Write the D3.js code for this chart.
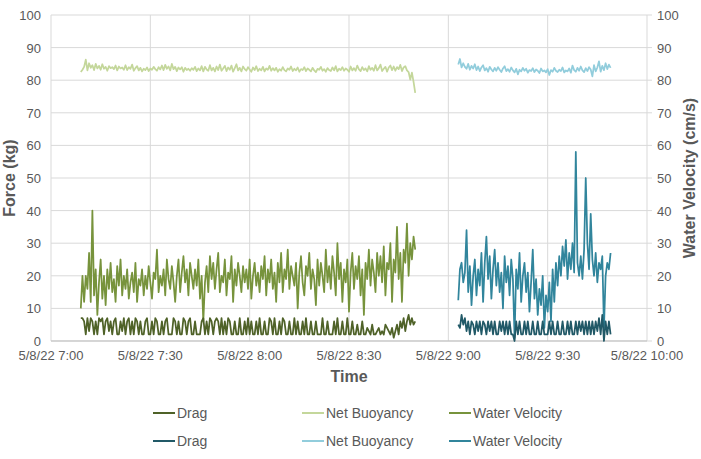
<!DOCTYPE html>
<html>
<head>
<meta charset="utf-8">
<script src="https://cdn.jsdelivr.net/npm/d3@7"></script>
<style>
  body { margin: 0; background: #fff; }
  text { font-family: "Liberation Sans", Arial, sans-serif; fill: #595959; }
</style>
</head>
<body>
<svg id="chart" width="701" height="459"></svg>
<script>
// sampling: one reading every 30 s, two deployments
var run1Start = new Date(2022, 4, 8, 7, 9, 0),
    run2Start = new Date(2022, 4, 8, 9, 3, 0),
    stepSec = 30;

var drag1 = [
  7, 7, 6, 2, 7, 3, 7, 6, 2, 6,  2, 7, 6, 7, 2, 6, 7, 3, 6, 2,
  6, 7, 2, 2, 6, 3, 7, 2, 6, 7,  2, 6, 2, 7, 6, 2, 6, 2, 2, 6,
  7, 2, 2, 6, 2, 7, 6, 2, 2, 6,  2, 6, 7, 2, 2, 2, 7, 6, 2, 6,
  2, 2, 7, 6, 2, 6, 7, 2, 2, 6,  2, 2, 2, 6, 7, 2, 6, 2, 7, 6,
  2, 6, 7, 6, 2, 7, 2, 6, 2, 7,  6, 2, 2, 6, 2, 2, 7, 2, 2, 6,
  2, 7, 2, 6, 2, 2, 6, 2, 7, 2,  2, 6, 2, 2, 7, 6, 2, 7, 2, 2,
  6, 2, 7, 6, 2, 2, 6, 2, 2, 7,  2, 6, 2, 2, 6, 2, 7, 2, 2, 6,
  2, 2, 6, 2, 2, 2, 7, 2, 2, 6,  2, 2, 2, 6, 2, 7, 2, 2, 6, 2,
  2, 7, 2, 2, 6, 2, 2, 5, 2, 2,  6, 2, 2, 4, 3, 2, 5, 2, 2, 3,
  4, 2, 3, 2, 5, 4, 3, 2, 4, 1,  3, 5, 2, 6, 4, 7, 3, 6, 8, 5,
  7, 5, 6
];
var buoy1 = [
  82.5, 83.2, 84.1, 86.3, 83.0, 85.2, 83.8, 84.6, 83.1, 85.0,
  83.6, 84.4, 83.2, 84.9, 83.5, 84.1, 82.9, 84.3, 83.7, 84.0,
  83.4, 84.5, 83.0, 84.2, 83.6, 83.9, 83.2, 84.6, 83.1, 84.0,
  83.5, 84.8, 82.9, 83.7, 84.3, 83.0, 83.8, 82.7, 83.5, 83.1,
  83.9, 82.8, 83.6, 83.2, 84.1, 83.4, 82.9, 84.0, 83.3, 84.5,
  83.1, 84.7, 83.5, 84.2, 83.0, 85.0, 83.4, 84.1, 82.8, 83.9,
  83.3, 84.0, 82.6, 83.8, 83.1, 83.5, 82.9, 83.7, 83.2, 84.1,
  82.8, 83.6, 83.0, 84.3, 82.7, 84.1, 83.3, 82.9, 84.6, 83.0,
  83.8, 82.7, 84.2, 83.1, 84.8, 82.9, 83.6, 84.4, 82.8, 83.9,
  83.2, 84.5, 82.6, 83.7, 84.9, 83.0, 83.8, 82.7, 84.2, 83.4,
  82.9, 84.0, 83.3, 82.6, 83.9, 83.1, 84.3, 82.8, 83.5, 83.0,
  84.1, 82.7, 83.6, 83.2, 84.4, 82.9, 83.7, 83.0, 83.8, 82.6,
  83.4, 82.9, 84.0, 83.1, 82.7, 83.6, 83.2, 84.2, 82.8, 83.5,
  83.0, 83.9, 82.6, 83.4, 83.1, 84.0, 82.8, 83.6, 83.2, 82.7,
  83.8, 83.0, 82.5, 83.5, 83.2, 84.1, 82.9, 83.4, 82.6, 83.7,
  83.1, 82.8, 83.9, 83.0, 84.3, 82.7, 83.5, 83.1, 84.0, 82.9,
  83.6, 83.2, 82.6, 84.2, 83.0, 83.7, 82.9, 84.5, 83.3, 82.8,
  84.0, 83.1, 83.6, 82.7, 84.3, 83.2, 83.8, 82.9, 84.6, 83.0,
  83.7, 84.8, 82.8, 83.5, 84.1, 82.6, 83.9, 84.5, 83.1, 84.2,
  82.9, 84.0, 83.4, 84.7, 82.8, 83.9, 84.3, 83.0, 82.5, 80.2,
  82.3, 79.5, 76.1
];
var vel1 = [
  10, 20, 12, 20, 16, 27, 12, 40, 14, 22,   8, 18, 25, 13, 20, 11, 22, 16, 24, 15,
  19, 12, 23, 17, 25, 14, 20, 16, 22, 13,  18, 21, 15, 24, 12, 19, 17, 22, 14, 20,
  16, 23, 18, 13, 21, 19, 28, 15, 20, 17,  22, 14, 25, 19, 16, 23, 18, 12, 20, 25,
  15, 21, 26, 18, 22, 14, 24, 20, 16, 22,  17, 25, 13, 20,  6, 18, 23, 15, 26, 19,
  24, 16, 22, 27, 15, 20, 18, 25, 14, 21,  19, 26, 12, 22, 17, 24, 20, 15, 23, 18,
  22, 16, 25, 13, 20, 24, 17, 21, 15, 23,  19, 26, 14, 22, 18, 25, 16, 21, 12, 24,
  18, 27, 15, 22, 19, 28, 16, 23, 20, 17,  24, 10, 21, 26, 18, 14, 23, 20, 27, 16,
  22, 19, 11, 25, 17, 24, 20, 15, 28, 18,  23, 16, 26, 21, 14, 30, 19, 24, 12, 22,
  18, 25,  9, 21, 27, 16, 23, 19, 26, 14,  22,  8, 24, 19, 28, 17, 25, 21, 15, 27,
  20, 26, 18, 29, 14, 24, 22, 30, 12, 25,  21, 35, 19, 27, 12, 28, 24, 36, 20, 30,
  25, 32, 28
];

var drag2 = [
  5, 4, 8, 5, 7, 3, 6, 2, 6, 5,  2, 6, 3, 6, 2, 6, 5, 2, 6, 3,
  6, 2, 6, 2, 2, 6, 3, 6, 2, 6,  2, 6, 2, 2, 0, 6, 2, 6, 2, 2,
  6, 2, 6, 2, 2, 6, 2, 2, 6, 2,  2, 6, 2, 2, 2, 6, 2, 6, 2, 2,
  6, 2, 2, 6, 2, 2, 6, 2, 6, 2,  2, 6, 2, 6, 3, 6, 2, 6, 2, 6,
  2, 6, 2, 6, 3, 7, 2, 8, 0, 6,  2, 6, 2
];
var buoy2 = [
  84.8, 86.5, 83.9, 85.2, 84.1, 83.5, 85.0, 83.2, 84.4, 83.6,
  84.9, 83.1, 84.2, 82.8, 83.9, 84.6, 83.0, 83.7, 82.6, 84.1,
  83.3, 82.7, 83.8, 82.9, 84.0, 83.2, 82.5, 83.6, 84.3, 82.8,
  83.4, 82.6, 83.9, 83.0, 82.4, 83.5, 81.8, 83.2, 82.7, 83.8,
  82.9, 83.5, 82.3, 83.1, 82.8, 83.7, 82.5, 83.3, 82.9, 82.2,
  83.6, 82.7, 83.0, 82.4, 83.4, 81.6, 83.1, 82.6, 83.8, 82.9,
  82.5, 83.2, 82.8, 83.9, 82.4, 83.0, 82.7, 83.6, 82.3, 84.5,
  83.1, 82.6, 83.8, 82.9, 84.2, 83.0, 82.5, 83.7, 82.8, 84.0,
  83.3, 81.2, 84.6, 82.7, 83.9, 85.8, 82.6, 84.4, 83.1, 85.2,
  83.4, 84.8, 83.8
];
var vel2 = [
  12.5, 22, 24, 18, 21, 34, 15, 23, 11, 20,  25, 14, 22, 17, 27, 12, 24, 32, 19, 26,
  13, 22, 28, 17, 24, 15, 21, 10, 26, 18,    23, 14, 25, 19,  1, 22, 16, 27, 12, 20,
  24, 15, 21,  9, 18, 28, 13, 19,  8, 16,    11, 20,  4, 14,  9, 18,  6, 22, 12, 24,
  17, 26, 20, 29, 23, 31, 19, 27, 22, 30,    21, 58, 24, 20, 26, 19, 28, 50, 30, 22,
  39, 25, 20, 27, 18, 24, 22, 26,  4, 20,    24, 22, 27
];

var yTicks = [0, 10, 20, 30, 40, 50, 60, 70, 80, 90, 100];
var legendLabels = ["Drag", "Net Buoyancy", "Water Velocity"];

var svg = d3.select("#chart"),
    margin = { top: 15, right: 54, bottom: 118, left: 51 },
    W = 701, H = 459,
    x0 = margin.left, x1 = W - margin.right,
    y0 = H - margin.bottom, y1 = margin.top;

var x = d3.scaleTime()
    .domain([new Date(2022, 4, 8, 7, 0), new Date(2022, 4, 8, 10, 0)])
    .range([x0, x1]);
var yForce = d3.scaleLinear().domain([0, 100]).range([y0, y1]);
var yVel = d3.scaleLinear().domain([0, 100]).range([y0, y1]);

var xTicks = x.ticks(d3.timeMinute.every(30));
var fmt = d3.timeFormat("%-m/%-d/%y %-H:%M");

// grid
svg.append("g").selectAll("line.h").data(yTicks).enter().append("line")
    .attr("x1", x0).attr("x2", x1 + 5)
    .attr("y1", d => yForce(d)).attr("y2", d => yForce(d))
    .attr("stroke", "#d9d9d9").attr("stroke-width", 1);
svg.append("g").selectAll("line.v").data(xTicks).enter().append("line")
    .attr("x1", d => x(d)).attr("x2", d => x(d))
    .attr("y1", y1).attr("y2", y0)
    .attr("stroke", "#d9d9d9").attr("stroke-width", 1);
svg.append("line").attr("x1", x0).attr("x2", x1).attr("y1", y0).attr("y2", y0)
    .attr("stroke", "#bfbfbf");

// tick labels
svg.append("g").selectAll("text").data(yTicks).enter().append("text")
    .attr("x", x0 - 10).attr("y", d => yForce(d) + 5)
    .attr("text-anchor", "end").style("font-size", "13px").text(d => d);
svg.append("g").selectAll("text").data(yTicks).enter().append("text")
    .attr("x", x1 + 10).attr("y", d => yVel(d) + 5)
    .attr("text-anchor", "start").style("font-size", "13px").text(d => d);
svg.append("g").selectAll("text").data(xTicks).enter().append("text")
    .attr("x", d => x(d)).attr("y", y0 + 19)
    .attr("text-anchor", "middle").style("font-size", "13px").text(d => fmt(d));

// axis titles
svg.append("text").attr("transform", "translate(15," + ((y0 + y1) / 2) + ") rotate(-90)")
    .attr("text-anchor", "middle").style("font-size", "16px").style("font-weight", "bold")
    .text("Force (kg)");
svg.append("text").attr("transform", "translate(695," + ((y0 + y1) / 2) + ") rotate(-90)")
    .attr("text-anchor", "middle").style("font-size", "16px").style("font-weight", "bold")
    .text("Water Velocity (cm/s)");
svg.append("text").attr("x", (x0 + x1) / 2).attr("y", y0 + 41)
    .attr("text-anchor", "middle").style("font-size", "16px").style("font-weight", "bold")
    .text("Time");

function toPoints(start, values) {
    return values.map((v, i) => ({ t: new Date(start.getTime() + i * stepSec * 1000), v: v }));
}

var series = [
    { values: drag1, start: run1Start, y: yForce, color: "#4f6228" },
    { values: buoy1, start: run1Start, y: yForce, color: "#c4d79b" },
    { values: vel1, start: run1Start, y: yVel, color: "#77933c" },
    { values: drag2, start: run2Start, y: yForce, color: "#215967" },
    { values: buoy2, start: run2Start, y: yForce, color: "#92cddc" },
    { values: vel2, start: run2Start, y: yVel, color: "#31859c" }
];

var drawOrder = [1, 4, 2, 5, 0, 3];
drawOrder.forEach(function (k) {
    var s = series[k];
    var line = d3.line().x(d => x(d.t)).y(d => s.y(d.v));
    svg.append("path")
        .datum(toPoints(s.start, s.values))
        .attr("d", line)
        .attr("fill", "none")
        .attr("stroke", s.color)
        .attr("stroke-width", 1.75)
        .attr("stroke-linejoin", "round");
});

// legend: two rows, one per deployment
var legendCols = [153, 302, 449],
    legendRows = [413, 441];
series.forEach(function (s, i) {
    var row = Math.floor(i / 3), col = i % 3,
        lx = legendCols[col], ly = legendRows[row];
    svg.append("line").attr("x1", lx).attr("x2", lx + 22).attr("y1", ly).attr("y2", ly)
        .attr("stroke", s.color).attr("stroke-width", 2);
    svg.append("text").attr("x", lx + 24).attr("y", ly + 5)
        .style("font-size", "14px").text(legendLabels[col]);
});
</script>
</body>
</html>
